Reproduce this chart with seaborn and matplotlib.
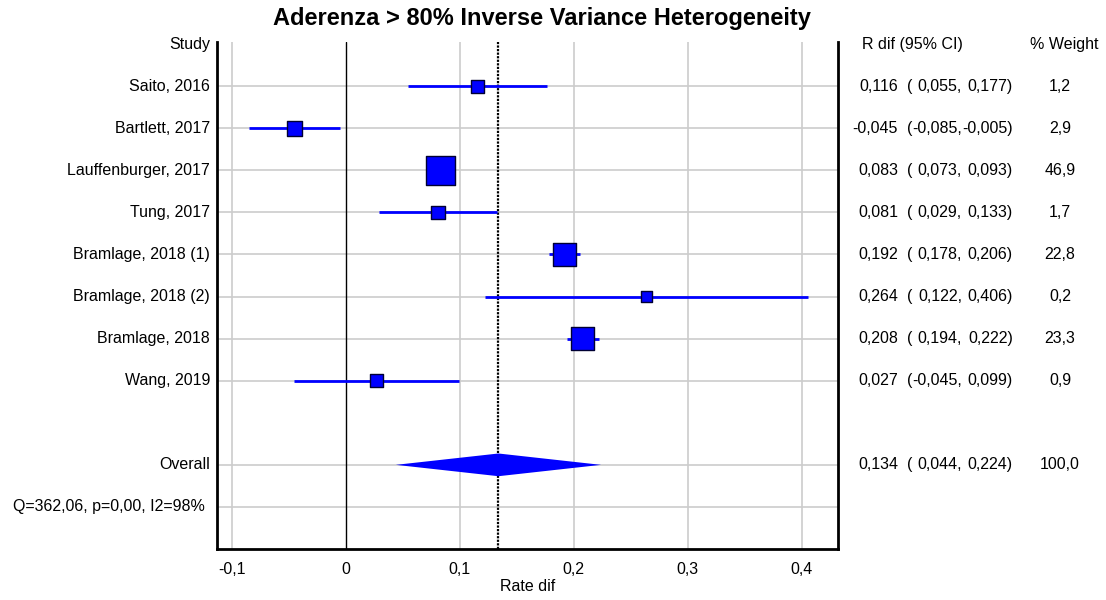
import numpy as np
import pandas as pd
import matplotlib
matplotlib.use("Agg")
import matplotlib.pyplot as plt
import matplotlib.transforms as mtransforms
from matplotlib.patches import Polygon
import seaborn as sns

# ---------------- data ----------------
studies = ["Saito, 2016", "Bartlett, 2017", "Lauffenburger, 2017", "Tung, 2017",
           "Bramlage, 2018 (1)", "Bramlage, 2018 (2)", "Bramlage, 2018", "Wang, 2019"]
est = [0.116, -0.045, 0.083, 0.081, 0.192, 0.264, 0.208, 0.027]
lo = [0.055, -0.085, 0.073, 0.029, 0.178, 0.122, 0.194, -0.045]
hi = [0.177, -0.005, 0.093, 0.133, 0.206, 0.406, 0.222, 0.099]
weight = [1.2, 2.9, 46.9, 1.7, 22.8, 0.2, 23.3, 0.9]
overall_label = "Overall"
overall = [0.134, 0.044, 0.224]
overall_weight = 100.0
het_text = "Q=362,06, p=0,00, I2=98%"
title = "Aderenza > 80% Inverse Variance Heterogeneity"
xticks = [-0.1, 0, 0.1, 0.2, 0.3, 0.4]
xticklabels = ["-0,1", "0", "0,1", "0,2", "0,3", "0,4"]
xlabel = "Rate dif"

sns.set_theme(style="white")
plt.rcParams['font.family'] = ['Liberation Sans', 'DejaVu Sans']
plt.rcParams['text.color'] = 'black'
plt.rcParams['axes.labelcolor'] = 'black'
plt.rcParams['xtick.color'] = 'black'

W, H = 1106, 600
fig = plt.figure(figsize=(W / 100, H / 100), dpi=100)
ax = fig.add_axes([217 / W, 1 - 549 / H, (838 - 217) / W, (549 - 42) / H])

n = len(studies)
rows = np.arange(1, n + 1)
row_overall = n + 2
row_het = n + 3

df = pd.DataFrame({"study": studies, "est": est, "lo": lo, "hi": hi,
                   "weight": weight, "row": rows})

blue = "#0000ff"
fs = 11.5

# grid lines
for r in list(rows) + [row_overall, row_het]:
    ax.axhline(r, color="#cccccc", lw=1.2, zorder=0)
for xt in xticks:
    if xt != 0:
        ax.axvline(xt, color="#cccccc", lw=1.2, zorder=0)
ax.axvline(0, color="black", lw=1.0, zorder=1)
ax.axvline(overall[0], color="black", lw=1.6, ls=(0, (1, 0.6)), zorder=1)

# CI lines
ax.hlines(df["row"], df["lo"], df["hi"], color=blue, lw=2, zorder=2)

# squares sized by weight (side in px -> area in pt^2)
side_px = 10 + 2.7 * np.sqrt(df["weight"].to_numpy())
side_pt = side_px * 72 / 100
size_map = {w: s ** 2 for w, s in zip(df["weight"], side_pt)}
sns.scatterplot(data=df, x="est", y="row", size="weight", sizes=size_map,
                marker="s", color=blue, edgecolor="#000033", linewidth=1,
                legend=False, ax=ax, zorder=3)

# overall diamond
dh = 0.27
ax.add_patch(Polygon([[overall[1], row_overall], [overall[0], row_overall - dh],
                      [overall[2], row_overall], [overall[0], row_overall + dh]],
                     closed=True, facecolor=blue, edgecolor="none", zorder=3))

ax.set_xlim(-0.113, 0.432)
ax.set_ylim(12, -0.05)
ax.set_xticks(xticks)
ax.set_xticklabels(xticklabels, fontsize=fs)
ax.set_yticks([])
ax.set_ylabel("")
ax.set_xlabel(xlabel, fontsize=fs, labelpad=2)
ax.tick_params(axis="x", length=3, width=1, color="black", pad=6, direction="out")
ax.spines["top"].set_visible(False)
for s in ["left", "right", "bottom"]:
    ax.spines[s].set_linewidth(2)
    ax.spines[s].set_color("black")

# text columns
tr = mtransforms.blended_transform_factory(fig.transFigure, ax.transData)


def fx(px):
    return px / W


def fmt(v):
    return f"{v:.3f}".replace(".", ",")


fig.text(fx(210), 0, "Study", ha="right", va="center", fontsize=fs, transform=tr)
for s, r in zip(studies, rows):
    fig.text(fx(210), r, s, ha="right", va="center", fontsize=fs, transform=tr)
fig.text(fx(210), row_overall, overall_label, ha="right", va="center", fontsize=fs, transform=tr)
fig.text(fx(205), row_het, het_text, ha="right", va="center", fontsize=fs, transform=tr)

fig.text(fx(862), 0, "R dif (95% CI)", ha="left", va="center", fontsize=fs, transform=tr)
fig.text(fx(1064), 0, "% Weight", ha="center", va="center", fontsize=fs, transform=tr)


def row_text(r, e, l, h, w):
    fig.text(fx(898), r, fmt(e), ha="right", va="center", fontsize=fs, transform=tr)
    fig.text(fx(907), r, "(", ha="left", va="center", fontsize=fs, transform=tr)
    fig.text(fx(962), r, fmt(l) + ",", ha="right", va="center", fontsize=fs, transform=tr)
    fig.text(fx(1013), r, fmt(h) + ")", ha="right", va="center", fontsize=fs, transform=tr)
    fig.text(fx(1060), r, f"{w:.1f}".replace(".", ","), ha="center", va="center",
             fontsize=fs, transform=tr)


for r, e, l, h, w in zip(rows, est, lo, hi, weight):
    row_text(r, e, l, h, w)
row_text(row_overall, overall[0], overall[1], overall[2], overall_weight)

fig.text(fx(542), 1 - 19 / H, title, ha="center", va="center", fontsize=17,
         fontweight="bold", family=['Liberation Sans Narrow', 'Liberation Sans', 'DejaVu Sans'])

fig.savefig("out.png", dpi=100, facecolor="white")
